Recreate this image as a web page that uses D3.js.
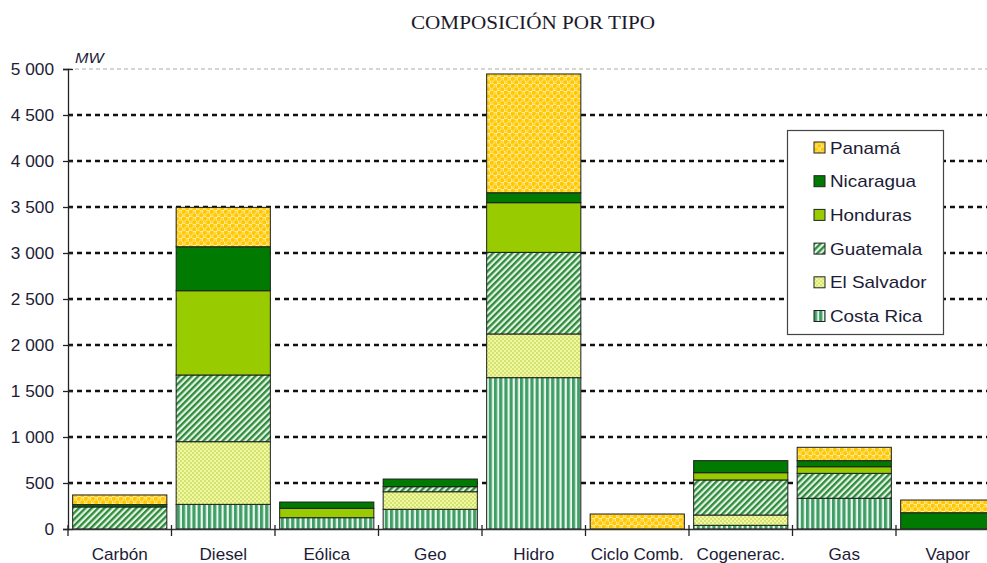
<!DOCTYPE html>
<html><head><meta charset="utf-8">
<script src="https://cdn.jsdelivr.net/npm/d3@7/dist/d3.min.js"></script>
<style>body{margin:0;background:#fff;}svg{display:block;font-family:Arial,"Liberation Sans",sans-serif;}</style>
</head><body>
<svg id="c" width="987" height="563"></svg>
<script>
const categories = ["Carbón","Diesel","Eólica","Geo","Hidro","Ciclo Comb.","Cogenerac.","Gas","Vapor"];
const seriesNames = ["Costa Rica","El Salvador","Guatemala","Honduras","Nicaragua","Panamá"];
const costaRica  = [0, 268, 123, 214, 1645, 0, 40, 334, 0];
const elSalvador = [0, 681, 0, 191, 475, 0, 112, 0, 0];
const guatemala  = [240, 725, 0, 55, 887, 0, 381, 271, 0];
const honduras   = [0, 916, 102, 0, 540, 0, 79, 72, 0];
const nicaragua  = [25, 478, 68, 83, 108, 0, 131, 66, 177];
const panama     = [105, 428, 0, 0, 1291, 163, 0, 145, 138];
const yTicks = [0,500,1000,1500,2000,2500,3000,3500,4000,4500,5000];
const yTickLabels = ["0","500","1 000","1 500","2 000","2 500","3 000","3 500","4 000","4 500","5 000"];
const title = "COMPOSICIÓN POR TIPO";
const unit = "MW";

const seriesValues = [costaRica, elSalvador, guatemala, honduras, nicaragua, panama];
const rows = categories.map((c,i)=>{const r={cat:c}; seriesNames.forEach((s,j)=>r[s]=seriesValues[j][i]); return r;});

const svg = d3.select("#c");
const x = d3.scaleBand().domain(categories).range([68, 999.5]).paddingInner(0.09).paddingOuter(0.045);
const y = d3.scaleLinear().domain([0,5000]).range([529,69]);

// patterns
const defs = svg.append("defs");
const pid = s => "p"+seriesNames.indexOf(s);
let p = defs.append("pattern").attr("id",pid("Costa Rica")).attr("patternUnits","userSpaceOnUse").attr("width",5.2).attr("height",10);
p.append("rect").attr("width",5.2).attr("height",10).attr("fill","#eaf6ee");
p.append("rect").attr("width",3.1).attr("height",10).attr("fill","#3f9e65");
p = defs.append("pattern").attr("id",pid("El Salvador")).attr("patternUnits","userSpaceOnUse").attr("width",4).attr("height",4);
p.append("rect").attr("width",4).attr("height",4).attr("fill","#f3f89c");
p.append("circle").attr("cx",1).attr("cy",1).attr("r",0.8).attr("fill","#a7c845");
p.append("circle").attr("cx",3).attr("cy",3).attr("r",0.8).attr("fill","#a7c845");
p = defs.append("pattern").attr("id",pid("Guatemala")).attr("patternUnits","userSpaceOnUse").attr("width",4.5).attr("height",4.5).attr("patternTransform","rotate(45)");
p.append("rect").attr("width",4.5).attr("height",4.5).attr("fill","#e4f3e4");
p.append("rect").attr("width",2.3).attr("height",4.5).attr("fill","#2e8b3c");
p = defs.append("pattern").attr("id",pid("Panamá")).attr("patternUnits","userSpaceOnUse").attr("width",7).attr("height",7);
p.append("rect").attr("width",7).attr("height",7).attr("fill","#fffbe8");
p.append("circle").attr("cx",1.75).attr("cy",1.75).attr("r",2.3).attr("fill","#ffc800");
p.append("circle").attr("cx",5.25).attr("cy",5.25).attr("r",2.3).attr("fill","#ffc800");
p.append("circle").attr("cx",5.25).attr("cy",1.75).attr("r",1.6).attr("fill","#ffd84a");
p.append("circle").attr("cx",1.75).attr("cy",5.25).attr("r",1.6).attr("fill","#ffd84a");
const fills = {"Costa Rica":`url(#${pid("Costa Rica")})`,"El Salvador":`url(#${pid("El Salvador")})`,"Guatemala":`url(#${pid("Guatemala")})`,"Honduras":"#99cc00","Nicaragua":"#007a00","Panamá":`url(#${pid("Panamá")})`};

// title
svg.append("text").attr("x",533).attr("y",29).attr("text-anchor","middle")
  .attr("font-family","'Liberation Serif','Times New Roman',serif").attr("font-size",18)
  .attr("textLength",244).attr("lengthAdjust","spacingAndGlyphs").attr("fill","#1a1a2a").text(title);

// grid
svg.append("g").selectAll("line").data(yTicks.filter(t=>t>0)).join("line")
  .attr("x1",68).attr("x2",1000).attr("y1",d=>y(d)).attr("y2",d=>y(d))
  .attr("stroke",d=>d===5000?"#aaa":"#111").attr("stroke-width",d=>d===5000?1:2.4)
  .attr("stroke-dasharray",d=>d===5000?"4,3":"5,4");

// bars
const stacked = d3.stack().keys(seriesNames)(rows);
svg.append("g").selectAll("g").data(stacked).join("g")
  .attr("fill",d=>fills[d.key])
  .selectAll("rect").data(d=>d.filter(v=>v[1]-v[0]>0)).join("rect")
  .attr("x",d=>x(d.data.cat)).attr("width",x.bandwidth())
  .attr("y",d=>y(d[1])).attr("height",d=>y(d[0])-y(d[1]))
  .attr("stroke","#1e1e1e").attr("stroke-width",1);

// y axis
const ya = svg.append("g").attr("transform","translate(68,0)")
  .call(d3.axisLeft(y).tickValues(yTicks).tickFormat((d,i)=>yTickLabels[i]).tickSize(5).tickPadding(0));
ya.select(".domain").attr("stroke","#222").attr("stroke-width",1.3);
ya.selectAll(".tick line").attr("x1",-5).attr("x2",5).attr("stroke","#222").attr("stroke-width",1.3);
ya.selectAll(".tick text").attr("x",0).attr("dy","0.36em").attr("transform",`translate(-14,0) scale(1.08,1)`)
  .attr("font-size",16).attr("fill","#1c1c36").attr("font-family","Arial,'Liberation Sans',sans-serif");

// x axis
const xa = svg.append("g").attr("transform","translate(0,529)")
  .call(d3.axisBottom(x).tickSize(0));
xa.select(".domain").attr("stroke","#333").attr("stroke-width",1.3).attr("d","M68,0.5H1000");
xa.selectAll(".tick text").attr("y",0).attr("dy",0).attr("transform",`translate(0,31) scale(1.07,1)`)
  .attr("font-size",16).attr("fill","#1c1c36").attr("font-family","Arial,'Liberation Sans',sans-serif");
svg.append("g").selectAll("line").data(d3.range(categories.length+1)).join("line")
  .attr("x1",i=>x.range()[0]+i*x.step()).attr("x2",i=>x.range()[0]+i*x.step())
  .attr("y1",525).attr("y2",536).attr("stroke","#222").attr("stroke-width",1.3);

// unit
svg.append("text").attr("transform",`translate(75,63) scale(1.15,1)`).attr("font-size",14).attr("font-style","italic")
  .attr("fill","#1c1c36").text(unit);

// legend
const lg = svg.append("g");
lg.append("rect").attr("x",787.5).attr("y",130.5).attr("width",156).attr("height",204).attr("fill","#fff").attr("stroke","#444").attr("stroke-width",1.2);
const legendOrder = seriesNames.slice().reverse();
const li = lg.selectAll("g").data(legendOrder).join("g").attr("transform",(d,i)=>`translate(814,${147.5+i*33.7})`);
li.append("rect").attr("x",0).attr("y",-5.5).attr("width",11).attr("height",11).attr("fill",d=>fills[d]).attr("stroke","#222").attr("stroke-width",1);
li.append("text").attr("transform",`translate(16,6) scale(1.18,1)`).attr("font-size",16).attr("fill","#1c1c36").text(d=>d);
</script>
</body></html>
